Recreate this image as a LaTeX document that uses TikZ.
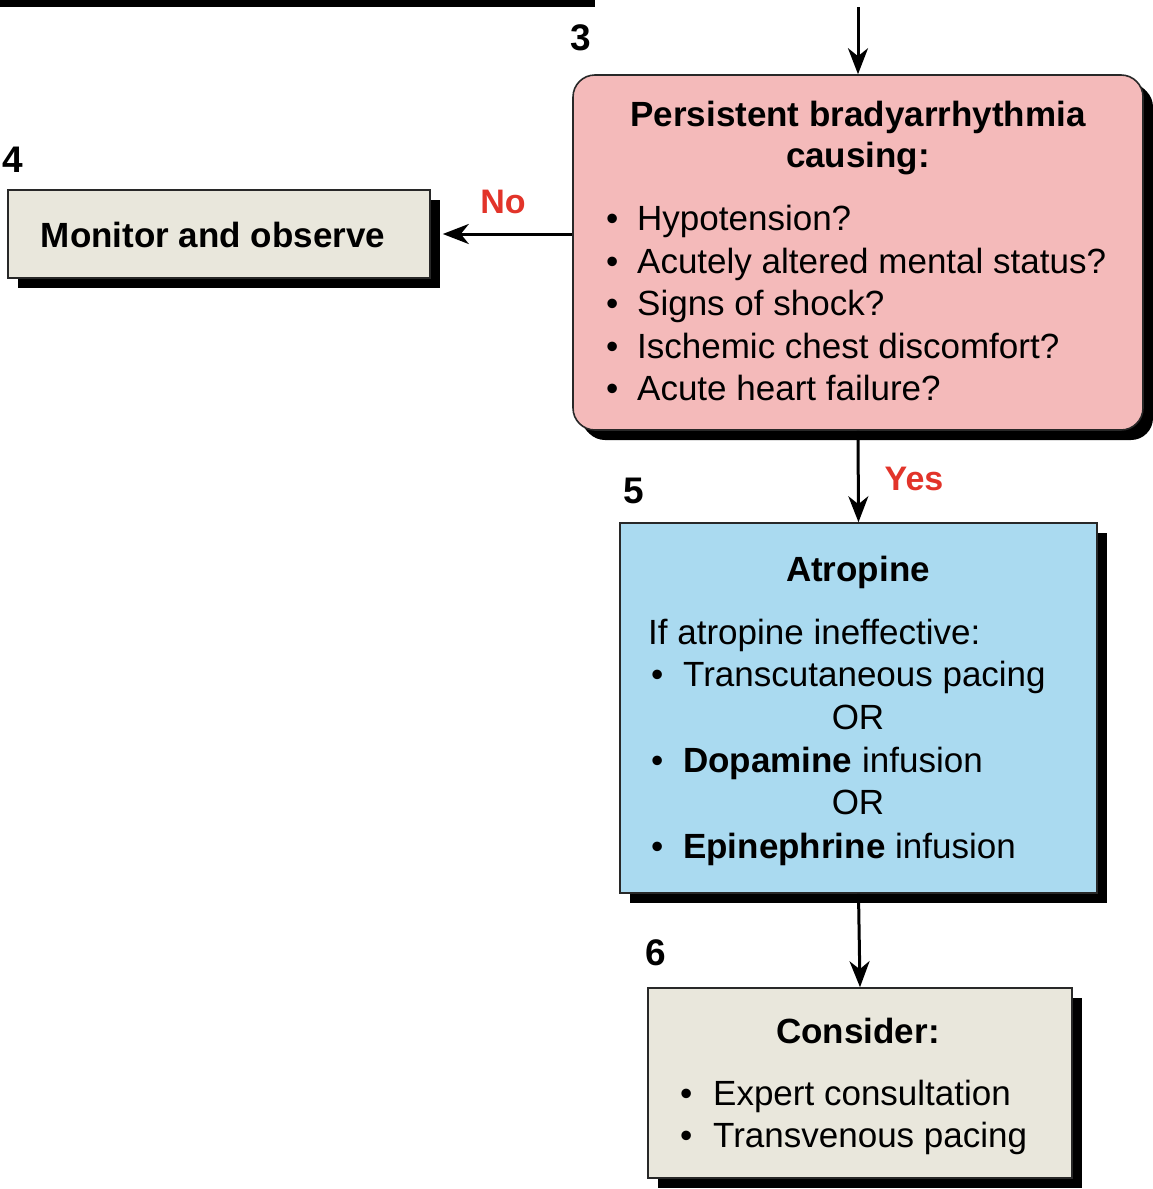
\documentclass[tikz,border=0pt]{standalone}
\usepackage{fontspec}
\setmainfont{Liberation Sans}
\usetikzlibrary{arrows.meta,shadows}
\definecolor{pinkfill}{RGB}{244,186,186}
\definecolor{bluefill}{RGB}{170,218,240}
\definecolor{greyfill}{RGB}{233,231,220}
\definecolor{labelred}{RGB}{226,52,42}
\definecolor{edge}{RGB}{40,40,40}
\tikzset{
  boxbase/.style={draw=edge, line width=1.6pt, inner sep=0pt,
    drop shadow={shadow xshift=10pt, shadow yshift=-10pt, opacity=1, fill=black}},
  pinkbox/.style={boxbase, fill=pinkfill, rounded corners=22pt,
    drop shadow={shadow xshift=8pt, shadow yshift=-8pt, opacity=1, fill=black}},
  bluebox/.style={boxbase, fill=bluefill},
  greybox/.style={boxbase, fill=greyfill},
  txt/.style={inner sep=0pt, font=\fontsize{35}{40}\selectfont},
  btxt/.style={txt, font=\fontsize{35}{40}\selectfont\bfseries},
  numlbl/.style={inner sep=0pt, font=\fontsize{37}{40}\selectfont\bfseries},
  redlbl/.style={inner sep=0pt, text=labelred, font=\fontsize{34}{40}\selectfont\bfseries},
  arr/.style={line width=3pt, -{Stealth[length=26pt, width=20pt, inset=8pt]}}
}
\newcommand{\bul}[1]{\makebox[#1][l]{\textbullet}}
\begin{document}
\begin{tikzpicture}[x=1pt,y=-1pt]
\useasboundingbox (0,0) rectangle (1152,1189);
% top bar
\fill[black] (0,0) rectangle (595,7);
% boxes
\node[pinkbox, minimum width=570pt, minimum height=355pt] (pink) at (858,252.5) {};
\node[greybox, minimum width=422pt, minimum height=88pt] (monitor) at (219,234) {};
\node[bluebox, minimum width=477pt, minimum height=370pt] (blue) at (858.5,708) {};
\node[greybox, minimum width=424pt, minimum height=190pt] (consider) at (860,1083) {};
% numbers
\node[numlbl, anchor=base] (n3) at (581,50) {3};
\node[numlbl, anchor=base] (n4) at (13,172) {4};
\node[numlbl, anchor=base] (n5) at (634,503) {5};
\node[numlbl, anchor=base] (n6) at (656,965) {6};
% pink text
\node[btxt, anchor=base] (p1) at (858,126) {Persistent bradyarrhythmia};
\node[btxt, anchor=base] (p2) at (858,167) {causing:};
\node[txt, anchor=base west] (p3) at (606,230) {\bul{31pt}Hypotension?};
\node[txt, anchor=base west] (p4) at (606,273) {\bul{31pt}Acutely altered mental status?};
\node[txt, anchor=base west] (p5) at (606,315) {\bul{31pt}Signs of shock?};
\node[txt, anchor=base west] (p6) at (606,358) {\bul{31pt}Ischemic chest discomfort?};
\node[txt, anchor=base west] (p7) at (606,400) {\bul{31pt}Acute heart failure?};
% monitor text
\node[btxt, anchor=base] (m1) at (213,247) {Monitor and observe};
% blue text
\node[btxt, anchor=base] (b1) at (858,581) {Atropine};
\node[txt, anchor=base west] (b2) at (648,644) {If atropine ineffective:};
\node[txt, anchor=base west] (b3) at (651,686) {\bul{32pt}Transcutaneous pacing};
\node[txt, anchor=base] (b4) at (858,729) {OR};
\node[txt, anchor=base west] (b5) at (651,772) {\bul{32pt}\textbf{Dopamine} infusion};
\node[txt, anchor=base] (b6) at (858,814) {OR};
\node[txt, anchor=base west] (b7) at (651,858) {\bul{32pt}\textbf{Epinephrine} infusion};
% consider text
\node[btxt, anchor=base] (c1) at (858,1043) {Consider:};
\node[txt, anchor=base west] (c2) at (680,1105) {\bul{33pt}Expert consultation};
\node[txt, anchor=base west] (c3) at (680,1147) {\bul{33pt}Transvenous pacing};
% connectors
\coordinate (topin) at (858,7);
\draw[arr] (topin) -- (pink.north);
\draw[arr, shorten >=12pt] (monitor.east -| pink.west) -- (monitor.east);
\draw[arr] (pink.south) -- (blue.north);
\draw[arr] (blue.south) -- (consider.north);
% labels
\node[redlbl, anchor=base] (no) at (503,213) {No};
\node[redlbl, anchor=base] (yes) at (914,490) {Yes};
\end{tikzpicture}
\end{document}
